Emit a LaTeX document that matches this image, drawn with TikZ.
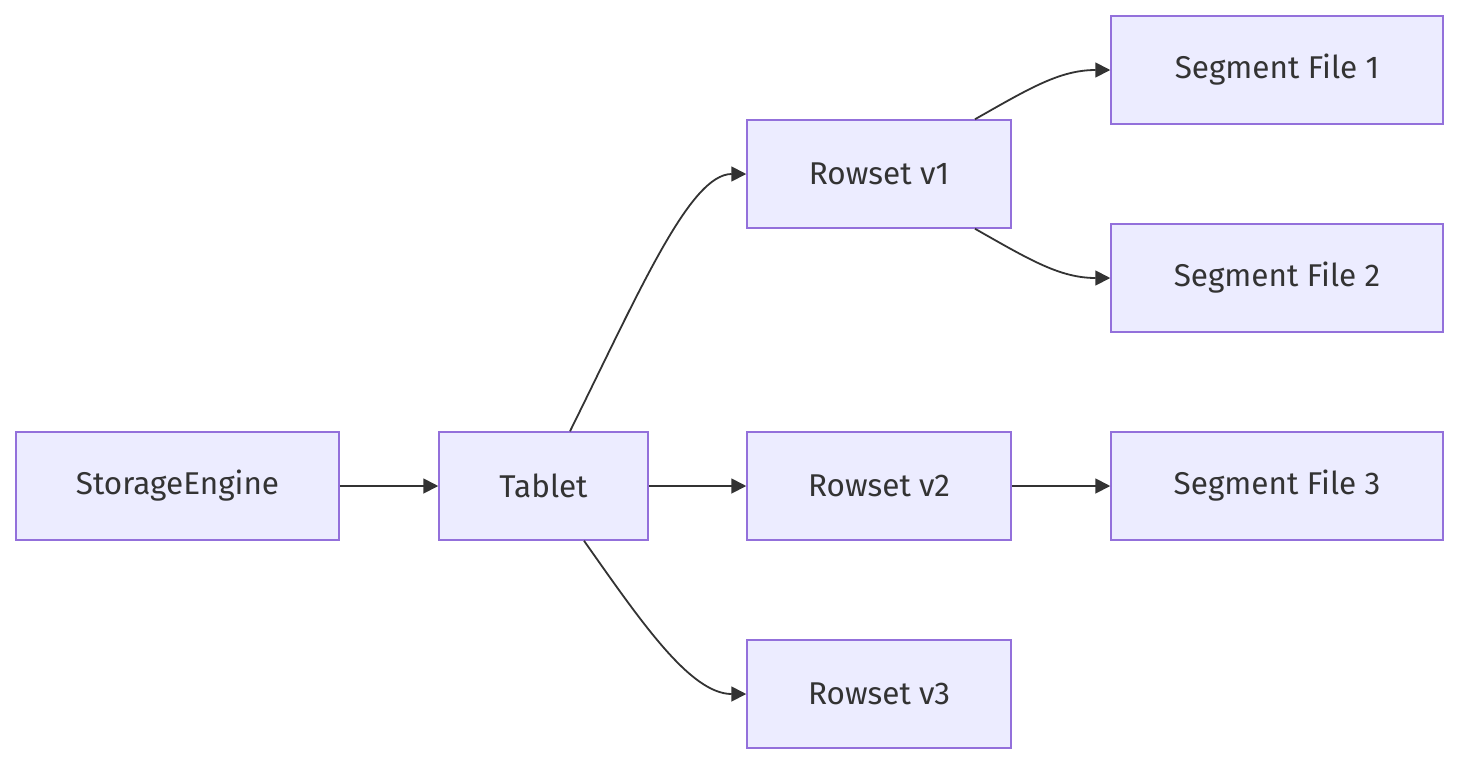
\documentclass[tikz,border=0pt]{standalone}
\usepackage{fontspec}
\setmainfont{Fira Sans}
\usetikzlibrary{arrows.meta}
\definecolor{nodefill}{HTML}{ECECFF}
\definecolor{nodedraw}{HTML}{9370DB}
\definecolor{edgecol}{HTML}{333333}
\tikzset{
  box/.style={draw=nodedraw, fill=nodefill, line width=1.5pt, inner sep=0pt,
    minimum height=108pt, font=\fontsize{31.5}{36}\selectfont, text=edgecol},
  edge/.style={draw=edgecol, line width=1.8pt, -{Triangle[length=15pt,width=15pt]}}
}
\begin{document}
\begin{tikzpicture}[x=1pt,y=-1pt]
\useasboundingbox (0,0) rectangle (1459,764);
\node[box, minimum width=323pt] (se) at (177.5,486) {StorageEngine};
\node[box, minimum width=209pt] (tab) at (543.5,486) {Tablet};
\node[box, minimum width=264pt] (r1) at (879,174) {Rowset v1};
\node[box, minimum width=264pt] (r2) at (879,486) {Rowset v2};
\node[box, minimum width=264pt] (r3) at (879,694) {Rowset v3};
\node[box, minimum width=332pt] (s1) at (1277,70) {Segment File 1};
\node[box, minimum width=332pt] (s2) at (1277,278) {Segment File 2};
\node[box, minimum width=332pt] (s3) at (1277,486) {Segment File 3};
\draw[edge] (se.east) -- (tab.west);
\draw[edge] (tab.east) -- (r2.west);
\draw[edge] (r2.east) -- (s3.west);
\draw[edge] ([xshift=26.5pt]tab.north) .. controls (640,290) and (690,174) .. (r1.west);
\draw[edge] ([xshift=40.5pt]tab.south) .. controls (640,620) and (690,694) .. (r3.west);
\draw[edge] ([xshift=96pt]r1.north) .. controls (1030,88) and (1060,70) .. (s1.west);
\draw[edge] ([xshift=96pt]r1.south) .. controls (1030,260) and (1060,278) .. (s2.west);
\end{tikzpicture}
\end{document}
